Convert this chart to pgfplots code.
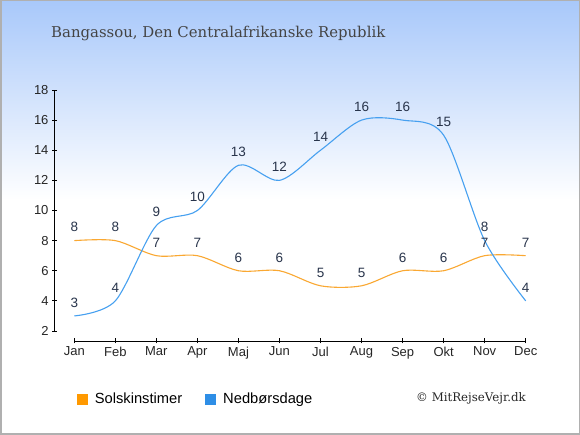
\documentclass[border=0pt]{standalone}
\usepackage{pgfplots}
\pgfplotsset{compat=1.18}
\usepackage{fontspec}
\setmainfont{Liberation Sans}
\newfontfamily\seriffont{DejaVu Serif}
\definecolor{sunline}{RGB}{250,168,50}
\definecolor{rainline}{RGB}{70,160,240}
\definecolor{sunsq}{RGB}{255,153,0}
\definecolor{rainsq}{RGB}{46,142,230}
\definecolor{lbl}{RGB}{40,52,75}
\definecolor{topbg}{RGB}{168,200,250}
\definecolor{titlec}{RGB}{68,68,68}
\definecolor{borderc}{RGB}{176,176,176}
\begin{document}
\begin{tikzpicture}[x=1bp,y=1bp]
\path[use as bounding box] (0,0) rectangle (580,435);
\fill[white] (0,0) rectangle (580,435);
\shade[top color=topbg, bottom color=white] (0,235) rectangle (580,435);
\draw[borderc, line width=1.5bp] (0.75,0.75) rectangle (579.25,434.25);
\node[anchor=base west, font=\seriffont\fontsize{14.9bp}{18bp}\selectfont, text=titlec, inner sep=0] at (51,397.7) {Bangassou, Den Centralafrikanske Republik};
\begin{axis}[
  at={(54.5bp,94bp)}, anchor=south west,
  scale only axis, width=471.2bp, height=251bp,
  xmin=-0.482, xmax=11, ymin=1.336, ymax=18,
  axis x line*=bottom, axis y line*=left,
  axis line style={draw=none},
  /pgf/number format/assume math mode=true,
  xtick={0,...,11},
  xticklabels={Jan,Feb,Mar,Apr,Maj,Jun,Jul,Aug,Sep,Okt,Nov,Dec},
  ytick={2,4,...,18},
  minor tick num=0,
  tick align=center, major tick length=5bp,
  tick style={black, line width=0.8bp},
  ticklabel style={font=\fontsize{13bp}{15bp}\selectfont, text=black!85},
  clip=false,
  legend style={at={(axis description cs:0.047,-0.231)}, anchor=west, draw=none, fill=none,
    font=\fontsize{14.7bp}{17bp}\selectfont, inner sep=0pt, nodes={inner sep=0pt},
    /tikz/every odd column/.append style={column sep=7.6bp},
    /tikz/every even column/.append style={column sep=23bp}},
  legend columns=2,
]
\addplot[sunline, line width=1.1bp, smooth, forget plot,
  nodes near coords, nodes near coords style={font=\fontsize{13.5bp}{16bp}\selectfont, text=lbl, anchor=south, inner sep=0pt, yshift=8bp}]
  coordinates {(0,8) (1,8) (2,7) (3,7) (4,6) (5,6) (6,5) (7,5) (8,6) (9,6) (10,7) (11,7)};
\addplot[rainline, line width=1.1bp, smooth, forget plot,
  nodes near coords, nodes near coords style={font=\fontsize{13.5bp}{16bp}\selectfont, text=lbl, anchor=south, inner sep=0pt, yshift=8bp}]
  coordinates {(0,3) (1,4) (2,9) (3,10) (4,13) (5,12) (6,14) (7,16) (8,16) (9,15) (10,8) (11,4)};
\draw[black, line width=0.8bp] (axis cs:-0.482,2) -- (axis cs:-0.482,18);
\draw[black, line width=0.8bp] (axis cs:0,1.336) -- (axis cs:11,1.336);
\addlegendimage{legend image code/.code={\fill[sunsq] (0bp,-5bp) rectangle (10bp,5bp);}}
\addlegendentry{Solskinstimer}
\addlegendimage{legend image code/.code={\fill[rainsq] (0bp,-5bp) rectangle (10bp,5bp);}}
\addlegendentry{Nedbørsdage}
\end{axis}
\node[anchor=east, font=\seriffont\fontsize{11.8bp}{15bp}\selectfont, text=black!85, inner sep=0] at (526,37) {© MitRejseVejr.dk};
\end{tikzpicture}
\end{document}
